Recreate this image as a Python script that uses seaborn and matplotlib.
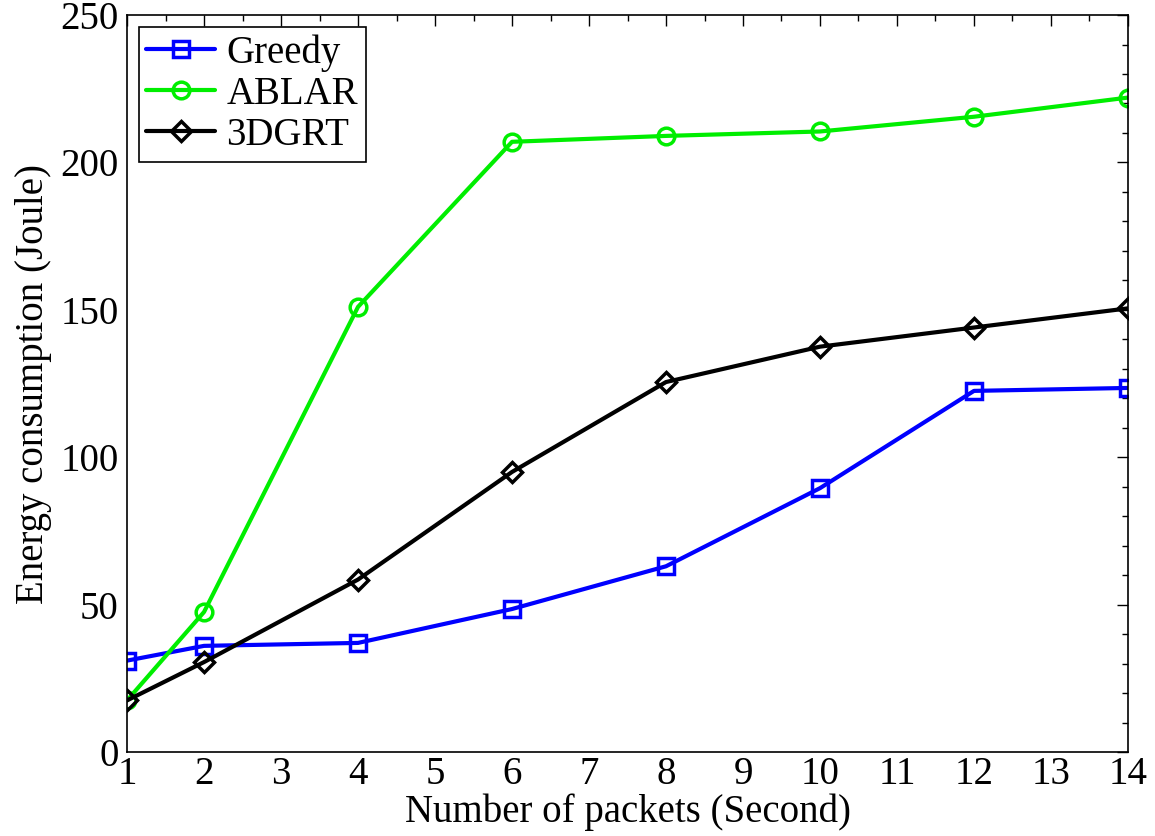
import pandas as pd
import seaborn as sns
import matplotlib.pyplot as plt
from matplotlib.ticker import MultipleLocator

packets = [1, 2, 4, 6, 8, 10, 12, 14]
greedy = [31, 36, 37, 48.5, 63, 89.5, 122.5, 123.5]
ablar = [17.5, 47.5, 151, 207, 209, 210.5, 215.5, 222]
dgrt = [17.5, 30.5, 58.5, 95, 125.5, 137.5, 144, 150.5]

sns.set_style("white")
plt.rcParams["font.family"] = ["Liberation Serif", "DejaVu Serif"]
plt.rcParams["axes.labelcolor"] = "black"
plt.rcParams["text.color"] = "black"

df = pd.DataFrame({
    "x": packets * 3,
    "y": greedy + ablar + dgrt,
    "method": ["Greedy"] * 8 + ["ABLAR"] * 8 + ["3DGRT"] * 8,
})

fig = plt.figure(figsize=(11.55, 8.36), dpi=100)
ax = fig.add_axes([0.110, 0.1005, 0.8666, 0.8815])

styles = {
    "Greedy": ("#0000ff", "s", 11.5),
    "ABLAR": ("#00ee00", "o", 12),
    "3DGRT": ("#000000", "D", 10),
}
for name, (col, mk, ms) in styles.items():
    sns.lineplot(
        data=df[df["method"] == name],
        x="x", y="y",
        color=col, marker=mk, markersize=ms,
        markerfacecolor="none", markeredgecolor=col, markeredgewidth=2.5,
        linewidth=3.0, label=name, ax=ax,
    )

ax.set_xlim(1, 14)
ax.set_ylim(0, 250)
ax.set_xticks(range(1, 15))
ax.set_yticks(range(0, 251, 50))
ax.xaxis.set_minor_locator(MultipleLocator(0.5))
ax.yaxis.set_minor_locator(MultipleLocator(10))
ax.tick_params(which="both", direction="in", top=True, right=True,
               labelsize=28, pad=6, width=1, colors="black")
ax.tick_params(axis="x", pad=3)
ax.tick_params(which="major", length=8)
ax.tick_params(which="minor", length=4)
for s in ax.spines.values():
    s.set_color("black")
    s.set_linewidth(1.2)

ax.set_xlabel("Number of packets (Second)", fontsize=28, labelpad=0,
              color="black")
ax.set_ylabel("Energy consumption (Joule)", fontsize=28, labelpad=6,
              color="black")

leg = ax.legend(loc="upper left", fontsize=28, frameon=True, fancybox=False,
                edgecolor="black", framealpha=1, borderaxespad=0.3,
                handlelength=1.75, labelspacing=0.1, borderpad=0.2,
                handletextpad=0.3)
leg.get_frame().set_linewidth(1.2)
for t in leg.get_texts():
    t.set_color("black")

fig.savefig("out.png", dpi=100)
